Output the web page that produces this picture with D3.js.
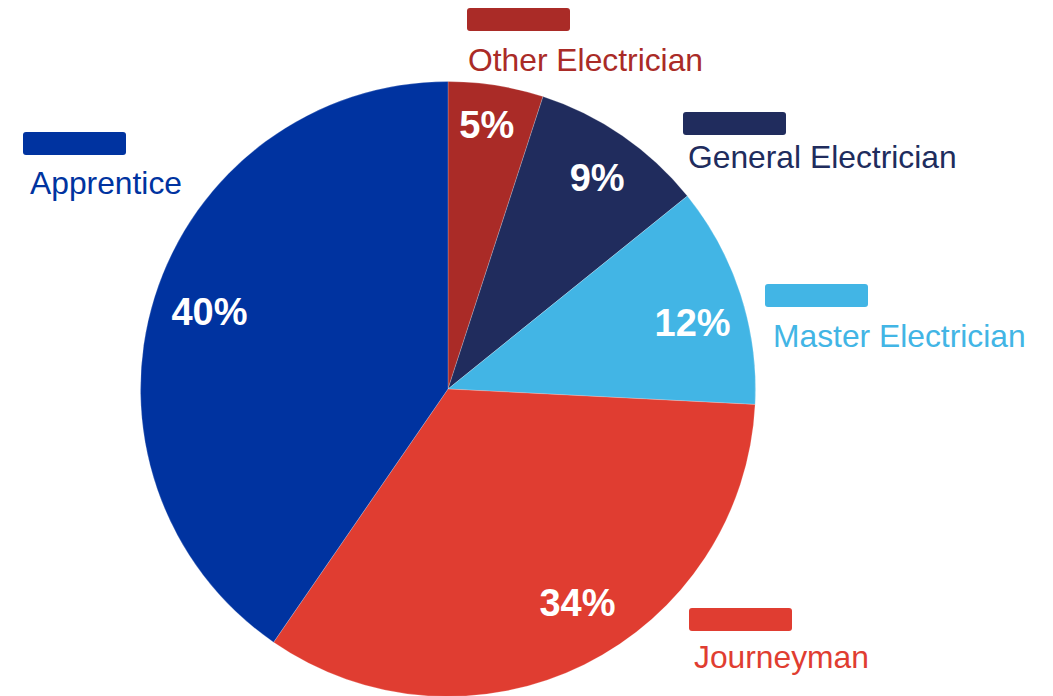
<!DOCTYPE html>
<html>
<head>
<meta charset="utf-8">
<script src="https://cdn.jsdelivr.net/npm/d3@7"></script>
<style>
  html, body { margin: 0; padding: 0; background: #fff; }
  svg { display: block; }
</style>
</head>
<body>
<svg id="chart" width="1053" height="696"></svg>
<script>
// Data
const categories = ["Other Electrician", "General Electrician", "Master Electrician", "Journeyman", "Apprentice"];
const values = [5.0, 9.2, 11.6, 33.8, 40.4];
const percentLabels = ["5%", "9%", "12%", "34%", "40%"];
const colors = ["#aa2b27", "#202c5d", "#42b5e5", "#e03d31", "#0033a0"];

// Layout (kept apart from the data): legend boxes/text and label nudges
const legendLayout = [
  { bx: 467, by: 8,   tx: 468, ty: 71 },
  { bx: 683, by: 112, tx: 688, ty: 168 },
  { bx: 765, by: 284, tx: 773, ty: 347 },
  { bx: 689, by: 608, tx: 694, ty: 668 },
  { bx: 23,  by: 132, tx: 30,  ty: 194 }
];
const labelNudge = [[-1, -14], [5, -3], [3, 12], [17, -14], [4, -2]];

const svg = d3.select("#chart");
const cx = 448, cy = 389, R = 307.5;

const pie = d3.pie().sort(null).value(d => d.value);
const data = categories.map((c, i) => ({ cat: c, value: values[i], label: percentLabels[i], color: colors[i], idx: i }));
const arcs = pie(data);

const arc = d3.arc().innerRadius(0).outerRadius(R);
const labelArc = d3.arc().innerRadius(254).outerRadius(254);

const g = svg.append("g").attr("transform", `translate(${cx},${cy})`);

g.selectAll("path.slice")
  .data(arcs)
  .enter().append("path")
  .attr("class", "slice")
  .attr("d", arc)
  .attr("fill", d => d.data.color)
  .attr("stroke", "rgba(255,255,255,0.35)")
  .attr("stroke-width", 0.6);

g.selectAll("text.pct")
  .data(arcs)
  .enter().append("text")
  .attr("class", "pct")
  .attr("transform", d => {
    const c = labelArc.centroid(d);
    const n = labelNudge[d.data.idx];
    return `translate(${c[0] + n[0]},${c[1] + n[1]})`;
  })
  .attr("text-anchor", "middle")
  .attr("dy", "0.36em")
  .attr("fill", "#ffffff")
  .attr("font-family", "Liberation Sans, Arial, sans-serif")
  .attr("font-weight", "bold")
  .attr("font-size", 38)
  .text(d => d.data.label);

// Legend
const lg = svg.append("g");
data.forEach((d, i) => {
  const L = legendLayout[i];
  lg.append("rect")
    .attr("x", L.bx).attr("y", L.by)
    .attr("width", 103).attr("height", 23)
    .attr("rx", 3).attr("ry", 3)
    .attr("fill", d.color);
  lg.append("text")
    .attr("x", L.tx).attr("y", L.ty)
    .attr("fill", d.color)
    .attr("font-family", "Liberation Sans, Arial, sans-serif")
    .attr("font-size", 31.8)
    .text(d.cat);
});
</script>
</body>
</html>
